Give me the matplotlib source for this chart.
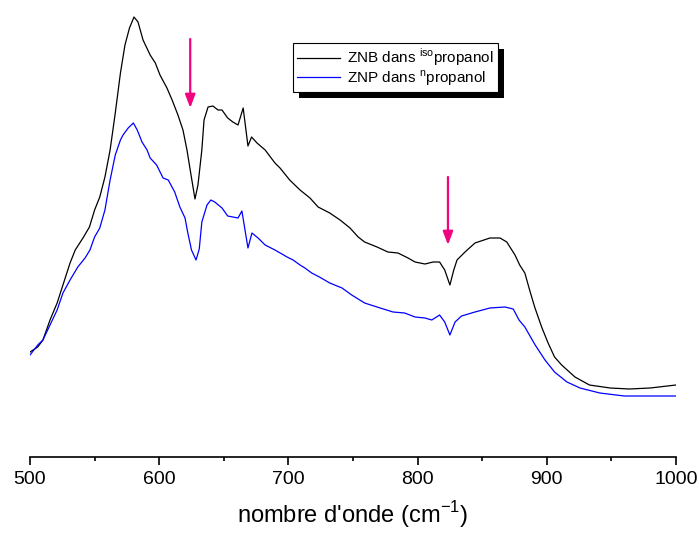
import numpy as np
import matplotlib.pyplot as plt
from matplotlib.patches import Rectangle
from matplotlib.ticker import MultipleLocator

plt.rcParams['font.family'] = ['Liberation Sans', 'DejaVu Sans']
plt.rcParams['mathtext.fontset'] = 'custom'
plt.rcParams['mathtext.rm'] = 'Liberation Sans'

# spectra (arbitrary intensity units)
wn_znb = [500, 506, 510, 515.5, 521, 525.5, 531, 535, 541, 546, 550, 554, 558, 562, 566,
          570, 573.5, 577, 580.5, 583.6, 587.5, 593, 597, 600.6, 606, 610, 614.5, 618.4,
          621.5, 624, 627.7, 630, 633, 634.7, 637.8, 641.6, 645.5, 648.6, 653, 657, 661,
          665, 668.7, 671.5, 675.7, 682, 689.6, 693.5, 701, 709, 716.7, 723, 732, 740,
          747.7, 754, 759, 768.6, 777, 784.8, 792.6, 798, 805.7, 812, 817, 821, 825, 828,
          830.5, 836.7, 844.4, 856, 863.8, 869, 875.4, 879, 883, 886.7, 890.6, 896, 901,
          906, 911.5, 921.8, 933, 949, 964, 980, 1000]
int_znb = [103, 108, 115, 135, 152, 170, 192, 205, 217, 228, 245, 258, 278, 305, 342,
           382, 410, 427, 438, 433, 415, 400, 392, 380, 367, 355, 340, 325,
           305, 285, 256, 270, 305, 335, 348, 349, 345, 345, 337, 333, 330,
           347, 309, 318, 312, 305, 292, 287, 275, 265, 257, 248, 242, 235,
           227, 218, 213, 208, 203, 202, 197, 193, 191, 193, 193, 185, 170, 185,
           195, 203, 212, 217, 217, 213, 200, 190, 182, 165, 148, 128, 112,
           98, 90, 78, 70, 67, 66, 67, 70]

wn_znp = [500, 506, 510, 515.5, 521, 525.5, 531, 537, 542.6, 546.4, 550, 554, 558, 562,
          566, 570, 572, 576, 580, 583, 586.7, 590.6, 593, 598, 603, 607, 612, 616, 620,
          622, 625, 628.5, 631, 633, 637, 640, 643, 648.6, 653, 657, 661, 664, 668.7,
          671.8, 676.5, 682, 689.6, 699, 703.6, 709, 712.8, 718, 724, 732, 741.5, 749,
          759, 771, 781, 790, 798, 805.7, 811, 817, 821, 825, 829, 834, 844.4, 856,
          867.6, 874, 878.5, 883, 891, 898.6, 906, 915.6, 925.7, 941, 960, 980, 1000]
int_znp = [100, 110, 115, 130, 145, 162, 175, 188, 197, 205, 218, 227, 245, 275,
           300, 315, 320, 327, 332, 325, 313, 305, 297, 290, 277, 275, 263, 248, 237,
           223, 205, 195, 206, 233, 250, 255, 253, 247, 239, 238, 237, 244, 207,
           222, 217, 210, 205, 198, 195, 190, 187, 182, 178, 172, 167, 160,
           152, 147, 143, 142, 138, 137, 135, 140, 133, 120, 133, 139, 143, 147,
           148, 146, 135, 128, 110, 95, 83, 73, 67, 62, 59, 59, 59]

labels = [r'ZNB dans $^{\mathregular{iso}}$propanol', r'ZNP dans $^{\mathregular{n}}$propanol']
colors = ['black', '#0000ff']

# arrows marking the bands
arrow_x = [624, 823.5]
arrow_top = [416, 278]
arrow_tip = [347, 210]
arrow_color = '#f0047f'

fig = plt.figure(figsize=(6.99, 5.35), dpi=100)
ax = fig.add_axes([30 / 699, 78 / 535, 646 / 699, 447 / 535])

ax.plot(wn_znb, int_znb, color=colors[0], lw=0.9, label=labels[0])
ax.plot(wn_znp, int_znp, color=colors[1], lw=0.9, label=labels[1])

for x, y0, y1 in zip(arrow_x, arrow_top, arrow_tip):
    ax.annotate('', xy=(x, y1), xytext=(x, y0),
                arrowprops=dict(arrowstyle='-|>,head_length=0.8,head_width=0.3',
                                color=arrow_color, lw=1.6, shrinkA=0, shrinkB=0))

ax.set_xlim(500, 1000)
ax.set_ylim(-2, 445)
for s in ['left', 'right', 'top']:
    ax.spines[s].set_visible(False)
ax.spines['bottom'].set_linewidth(1.2)
ax.set_yticks([])
ax.xaxis.set_major_locator(MultipleLocator(100))
ax.xaxis.set_minor_locator(MultipleLocator(50))
ax.tick_params(axis='x', which='major', length=6, width=1.2, labelsize=14, pad=4)
ax.tick_params(axis='x', which='minor', length=3, width=1.2)
ax.set_xlabel(r"nombre d'onde (cm$^{\mathregular{-1}}$)", fontsize=17, labelpad=8)

leg = ax.legend(loc='upper left', bbox_to_anchor=(0.407, 0.926), borderaxespad=0,
                fontsize=11, frameon=True, fancybox=False, edgecolor='black',
                facecolor='white', framealpha=1,
                handlelength=2.8, handletextpad=0.5, borderpad=0.25, labelspacing=0.0)
leg.get_frame().set_linewidth(0.8)

# solid black drop shadow behind the legend box
fig.canvas.draw()
bb = leg.get_window_extent()
shadow = Rectangle((bb.x0 + 6, bb.y0 - 6), bb.width, bb.height, transform=None,
                   facecolor='black', edgecolor='none')
ax.add_artist(shadow)
shadow.set_zorder(4)
leg.set_zorder(5)

fig.savefig('out.png', dpi=100)
